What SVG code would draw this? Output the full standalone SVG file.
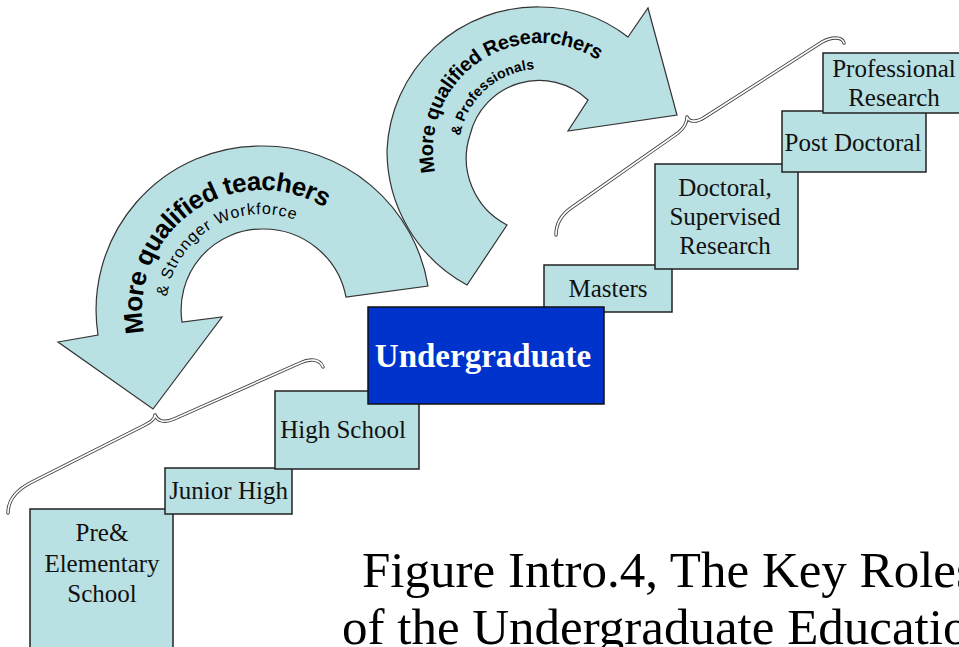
<svg xmlns="http://www.w3.org/2000/svg" width="959" height="647" viewBox="0 0 959 647">
<style>
.box{fill:#b9e0e3;stroke:#222;stroke-width:1.5}
.ug{fill:#0033cc;stroke:#111;stroke-width:1.5}
.lbl{font-family:"Liberation Serif","Times New Roman",serif;font-size:25px;fill:#111;text-anchor:middle}
.ugt{font-family:"Liberation Serif","Times New Roman",serif;font-size:33px;font-weight:bold;fill:#fff;text-anchor:middle}
.arrow{fill:#b9e0e3;stroke:#333;stroke-width:1.2;stroke-linejoin:miter}
.at{font-family:"Liberation Sans",Arial,sans-serif;fill:#000}
.braceo{fill:none;stroke:#444;stroke-width:3.4;stroke-linecap:round}
.bracei{fill:none;stroke:#fff;stroke-width:1.6;stroke-linecap:round}
.title{font-family:"Liberation Serif","Times New Roman",serif;font-size:51px;fill:#000}
</style>
<defs>
<path id="p1" d="M 144.2 332.9 A 120 120 0 0 1 322 206.1"/>
<path id="p1s" d="M 166.9 296.6 A 96 96 0 0 1 294.8 219.8"/>
<path id="p2" d="M 435.3 172.2 A 107 107 0 0 1 596.7 59.3"/>
<path id="p2s" d="M 460.2 135.9 A 81 81 0 0 1 534.3 69.2"/>
<path id="braceLow" d="M 8 513 C 8 500 16 490 32 482 L 145 425 C 151 422 155 419 155 415 M 155 415 C 157 420 163 424 174 419 L 300 363 C 310 358 320 359 323 367"/>
<path id="braceUp" d="M 556 235 C 556 223 561 215 571 208 L 678 133 C 684 128 687 123 687 117 M 687 117 C 689 122 696 123 705 117 L 822 42 C 831 37 842 36 844 43"/>
</defs>

<g id="arrow-teachers">
<path class="arrow" d="M 428 286 A 167 167 0 0 0 262 146 A 164 164 0 0 0 98 335 L 58 342 L 153 409 L 222 317 L 182 322 A 81 81 0 0 1 262 229 A 84 84 0 0 1 346 297 Z"/>
<text class="at" font-size="26" font-weight="bold" letter-spacing="-0.6"><textPath href="#p1">More qualified teachers</textPath></text>
<text class="at" font-size="16" letter-spacing="0.9"><textPath href="#p1s">&amp; Stronger Workforce</textPath></text>
</g>

<g id="arrow-researchers">
<path class="arrow" d="M 467 285 A 153 153 0 0 1 387 150 A 150 150 0 0 1 540 7 A 143 143 0 0 1 628 37 L 648 8 L 677 115 L 568 131 L 588 100 A 71 71 0 0 0 470 135 A 75 75 0 0 0 507 225 Z"/>
<text class="at" font-size="20" font-weight="bold" letter-spacing="-0.4"><textPath href="#p2">More qualified Researchers</textPath></text>
<text class="at" font-size="14" font-weight="bold" letter-spacing="0.1"><textPath href="#p2s">&amp; Professionals</textPath></text>
</g>

<g id="connectors">
<use href="#braceLow" class="braceo"/>
<use href="#braceLow" class="bracei"/>
<use href="#braceUp" class="braceo"/>
<use href="#braceUp" class="bracei"/>
</g>

<g id="node-pre-elementary">
<rect class="box" x="30" y="509" width="143" height="150"/>
<text class="lbl" x="102" y="541">Pre&amp;</text>
<text class="lbl" x="102" y="572">Elementary</text>
<text class="lbl" x="102" y="602">School</text>
</g>
<g id="node-junior-high">
<rect class="box" x="165" y="468" width="127" height="46"/>
<text class="lbl" x="228.5" y="499">Junior High</text>
</g>
<g id="node-high-school">
<rect class="box" x="275" y="391" width="144" height="78"/>
<text class="lbl" x="343" y="438">High School</text>
</g>
<g id="node-masters">
<rect class="box" x="544" y="265" width="128" height="47"/>
<text class="lbl" x="608" y="297">Masters</text>
</g>
<g id="node-undergraduate">
<rect class="ug" x="368" y="307" width="236" height="97"/>
<text class="ugt" x="483" y="367">Undergraduate</text>
</g>
<g id="node-doctoral">
<rect class="box" x="655" y="164" width="143" height="105"/>
<text class="lbl" x="725" y="196">Doctoral,</text>
<text class="lbl" x="725" y="225">Supervised</text>
<text class="lbl" x="725" y="254">Research</text>
</g>
<g id="node-post-doctoral">
<rect class="box" x="782" y="111" width="144" height="61"/>
<text class="lbl" x="853" y="151">Post Doctoral</text>
</g>
<g id="node-professional-research">
<rect class="box" x="823" y="53" width="145" height="60"/>
<text class="lbl" x="894" y="77">Professional</text>
<text class="lbl" x="894" y="106">Research</text>
</g>

<g id="caption">
<text class="title" x="362" y="587">Figure Intro.4, The Key Roles</text>
<text class="title" x="342" y="644">of the Undergraduate Educatio</text>
</g>
</svg>
